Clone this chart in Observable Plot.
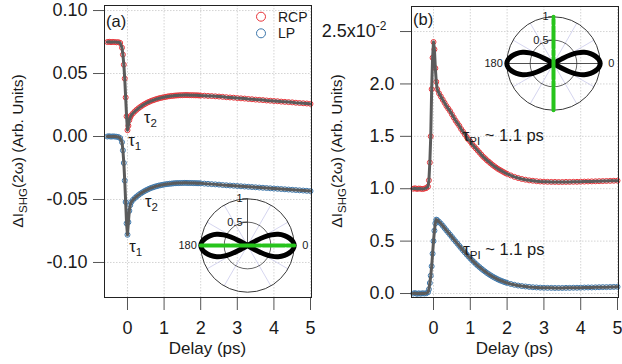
<!DOCTYPE html>
<html><head><meta charset="utf-8">
<script src="https://cdn.jsdelivr.net/npm/d3@7"></script>
<script src="https://cdn.jsdelivr.net/npm/@observablehq/plot@0.6"></script>
<style>
body{margin:0;background:#fff;}
#wrap{position:relative;width:622px;height:364px;overflow:hidden;font-family:"Liberation Sans",Arial,sans-serif;background:#fff;}
#wrap > svg{position:absolute;}
</style></head><body><div id="wrap"></div>
<script>
// ---------- data ----------
const delay = [-0.55,-0.5,-0.45,-0.4,-0.35,-0.3,-0.25,-0.2,-0.15,-0.125,-0.1,-0.075,-0.05,-0.025,0,0.025,0.05,0.075,
 0.1,0.15,0.2,0.25,0.3,0.35,0.4,0.45,0.5,0.55,0.6,0.65,0.7,0.75,0.8,0.85,0.9,0.95,1.0,1.05,1.1,1.15,1.2,1.25,1.3,1.35,1.4,1.45,1.5,1.55,1.6,1.65,1.7,1.75,1.8,1.85,1.9,1.95,2.0,
 2.1,2.2,2.3,2.4,2.5,2.6,2.7,2.8,2.9,3.0,3.1,3.2,3.3,3.4,3.5,3.6,3.7,3.8,3.9,4.0,4.1,4.2,4.3,4.4,4.5,4.6,4.7,4.8,4.9,5.0];

// panel (a)
const rcpA = [0.0750,0.0752,0.0749,0.0751,0.0750,0.0748,0.0749,0.0743,0.0705,0.0650,0.0570,0.0460,0.0310,0.0160,0.0050,0.0085,0.0130,0.0152,
 0.0168,0.0184,0.0199,0.0212,0.0224,0.0235,0.0245,0.0254,0.0262,0.0270,0.0276,0.0283,0.0288,0.0293,0.0298,0.0302,0.0306,0.0309,0.0312,0.0315,0.0318,0.0320,0.0322,0.0323,0.0325,0.0326,0.0327,0.0328,0.0328,0.0329,0.0329,0.0329,0.0328,0.0328,0.0328,0.0327,0.0327,0.0326,0.0325,
 0.0324,0.0322,0.0321,0.0319,0.0317,0.0315,0.0312,0.0310,0.0308,0.0305,0.0303,0.0301,0.0298,0.0296,0.0293,0.0291,0.0289,0.0286,0.0284,0.0282,0.0280,0.0277,0.0275,0.0273,0.0271,0.0268,0.0266,0.0264,0.0262,0.0259];
const lpA = [0.0000,0.0002,-0.0001,0.0001,0.0000,-0.0002,-0.0004,-0.0013,-0.0045,-0.0110,-0.0210,-0.0350,-0.0520,-0.0690,-0.0780,-0.0680,-0.0590,-0.0545,
 -0.0522,-0.0503,-0.0489,-0.0476,-0.0465,-0.0454,-0.0445,-0.0436,-0.0428,-0.0421,-0.0414,-0.0408,-0.0403,-0.0398,-0.0394,-0.0390,-0.0387,-0.0384,-0.0381,-0.0379,-0.0377,-0.0375,-0.0374,-0.0372,-0.0371,-0.0370,-0.0370,-0.0369,-0.0369,-0.0368,-0.0368,-0.0369,-0.0369,-0.0369,-0.0370,-0.0370,-0.0371,-0.0371,-0.0372,
 -0.0374,-0.0376,-0.0378,-0.0380,-0.0382,-0.0385,-0.0387,-0.0389,-0.0391,-0.0393,-0.0395,-0.0397,-0.0399,-0.0401,-0.0403,-0.0405,-0.0407,-0.0409,-0.0411,-0.0413,-0.0415,-0.0417,-0.0419,-0.0421,-0.0423,-0.0425,-0.0427,-0.0429,-0.0431,-0.0433];

// panel (b), units of 1e-2
const rcpB = [1.000,1.004,0.998,1.002,1.000,0.997,1.001,1.006,1.020,1.080,1.250,1.500,1.950,2.250,2.400,2.330,2.150,2.020,
 1.950,1.910,1.880,1.850,1.820,1.790,1.765,1.740,1.710,1.680,1.650,1.625,1.600,1.570,1.545,1.520,1.495,1.470,1.450,1.425,1.405,1.385,1.365,1.345,1.325,1.305,1.290,1.272,1.258,1.243,1.228,1.215,1.202,1.190,1.180,1.170,1.160,1.150,1.142,
 1.127,1.113,1.102,1.093,1.086,1.080,1.076,1.072,1.069,1.067,1.066,1.065,1.065,1.064,1.064,1.065,1.065,1.066,1.066,1.067,1.068,1.069,1.070,1.071,1.072,1.073,1.074,1.075,1.076,1.077];
const lpB = [0.000,0.004,-0.003,0.002,-0.002,0.003,0.000,0.002,0.012,0.040,0.100,0.170,0.260,0.380,0.500,0.600,0.670,0.705,
 0.700,0.685,0.667,0.647,0.625,0.603,0.582,0.561,0.540,0.518,0.497,0.476,0.455,0.434,0.413,0.393,0.373,0.354,0.335,0.317,0.300,0.283,0.267,0.252,0.237,0.223,0.210,0.197,0.185,0.174,0.163,0.153,0.144,0.135,0.127,0.120,0.113,0.107,0.101,
 0.091,0.083,0.076,0.071,0.067,0.063,0.060,0.058,0.056,0.055,0.054,0.054,0.053,0.053,0.053,0.054,0.054,0.055,0.055,0.056,0.057,0.058,0.058,0.059,0.060,0.061,0.061,0.062,0.063,0.064];

const delayTicks = [0,1,2,3,4,5];
const yTicksA = [-0.10,-0.05,0,0.05,0.10];
const yTicksB = [0,0.5,1,1.5,2,2.5];
const seriesNames = ["RCP","LP"];

// polar insets
const lobeAngle = [0,5,10,15,20,24,27,29,30];
const lobeR     = [1.00,0.975,0.91,0.82,0.70,0.56,0.40,0.22,0];
const ringR = [0.5,1];
const spokeAngle = [30,60,120,150,210,240,300,330];
const sideAngle = [180,0];
const greenAngleA = 0, greenAngleB = 90;

// annotations (anchor in data coordinates)
const annA = [
  {t:0.464, v:0.0103, main:"τ", sub:"2", rest:""},
  {t:0.036, v:-0.0083, main:"τ", sub:"1", rest:""},
  {t:0.49, v:-0.0563, main:"τ", sub:"2", rest:""},
  {t:0.063, v:-0.0921, main:"τ", sub:"1", rest:""}
];
const annB = [
  {t:0.807, v:1.455, main:"τ", sub:"PI", rest:" ~ 1.1 ps"},
  {t:0.823, v:0.363, main:"τ", sub:"PI", rest:" ~ 1.1 ps"}
];

// ---------- drawing ----------
const FONT = "'Liberation Sans', Arial, Helvetica, sans-serif";
const RED = "#e8353a", BLUE = "#3d77ab", FIT = "#5b5b5b", GREEN = "#27c41c";
const wrap = document.getElementById("wrap");

function mainPanel(o) {
  const rcp = delay.map((t,i)=>({t, v:o.rcp[i]}));
  const lp = delay.map((t,i)=>({t, v:o.lp[i]}));
  const grid = {stroke:"#c9c9c9", strokeOpacity:1, strokeWidth:0.8, strokeDasharray:"1.5,1.5"};
  const chart = Plot.plot({
    width: o.width, height: 364,
    marginLeft: o.ml, marginRight: o.mr, marginTop: o.mt, marginBottom: 67,
    style: {background:"transparent", fontFamily: FONT, fontSize:"18px", color:"#1a1a1a", overflow:"visible", maxWidth:"none"},
    x: {domain: o.xd},
    y: {domain: o.yd},
    marks: [
      Plot.gridX(delayTicks, grid),
      Plot.gridY(o.yTicks, grid),
      Plot.dot(rcp, {x:"t", y:"v", r:2.5, stroke:RED, strokeWidth:1, fill:"none"}),
      Plot.dot(lp, {x:"t", y:"v", r:2.5, stroke:BLUE, strokeWidth:1, fill:"none"}),
      Plot.line(rcp, {x:"t", y:"v", stroke:FIT, strokeWidth:3}),
      Plot.line(lp, {x:"t", y:"v", stroke:FIT, strokeWidth:3}),
      Plot.axisX({ticks: delayTicks, tickSize:13, tickPadding:11, tickFormat: d=>String(d), label:null, stroke:"#555", fontSize:18}),
      Plot.axisY({ticks: o.yTicks, tickSize:11, tickPadding:6, tickFormat: o.fmt, label:null, stroke:"#555", fontSize:18}),
      Plot.frame({stroke:"#222", strokeWidth:1})
    ]
  });
  chart.style.left = o.left + "px";
  chart.style.top = "0px";
  wrap.appendChild(chart);
  const svg = d3.select(chart);
  const sx = chart.scale("x"), sy = chart.scale("y");
  const g = svg.append("g").attr("font-family", FONT).attr("fill", "#1a1a1a").attr("text-anchor","start");
  // y label
  const yl = g.append("text").attr("transform", `translate(${o.ylx},151) rotate(-90)`)
    .attr("text-anchor","middle").attr("font-size",15.5);
  yl.append("tspan").text("ΔI");
  yl.append("tspan").attr("font-size",11.5).attr("dy",4).text("SHG");
  yl.append("tspan").attr("dy",-4).text("(2ω) (Arb. Units)");
  // x label
  g.append("text").attr("x", (o.ml + o.width - o.mr)/2).attr("y",354).attr("text-anchor","middle")
    .attr("font-size",17).text("Delay (ps)");
  // panel letter
  g.append("text").attr("x", o.ml + 2).attr("y", o.letterY).attr("font-size",16.5).text(o.letter);
  // annotations
  for (const a of o.ann) {
    const t = g.append("text").attr("x", sx.apply(a.t)).attr("y", sy.apply(a.v)).attr("font-size",16.5);
    t.append("tspan").text(a.main);
    t.append("tspan").attr("font-size",11.5).attr("dy",4).text(a.sub);
    if (a.rest) t.append("tspan").attr("dy",-4).text(a.rest);
  }
  return {chart, svg, g};
}

// panel (a)
const A = mainPanel({rcp:rcpA, lp:lpA, left:0, width:313, ml:104, mr:2, mt:5,
  xd:[-0.628,5.027], yd:[-0.1278,0.104], yTicks:yTicksA, fmt:d=>d.toFixed(2),
  ylx:23, letter:"(a)", letterY:27, ann:annA});
// legend
const leg = A.g.append("g");
seriesNames.forEach((name,i)=>{
  const cy = 16.7 + i*16.6;
  leg.append("circle").attr("cx",261).attr("cy",cy).attr("r",4.5).attr("fill","none")
    .attr("stroke", i===0?RED:BLUE).attr("stroke-width",1);
  leg.append("text").attr("x",278).attr("y",cy+5).attr("font-size",14).text(name);
});

// panel (b)
const B = mainPanel({rcp:rcpB, lp:lpB, left:309, width:313, ml:102, mr:4, mt:6,
  xd:[-0.598,5.027], yd:[-0.038,2.739], yTicks:yTicksB,
  fmt:d=> d===2.5 ? "2.5x10" : d.toFixed(1),
  ylx:33, letter:"(b)", letterY:25, ann:annB});
B.svg.selectAll("text").filter(function(){return this.textContent==="2.5x10";})
  .attr("dx", -8)
  .append("tspan").attr("dy",-7).attr("font-size",12).text("-2");

// polar insets
function inset(cx, cy, greenAngle) {
  const W=170, H=112, R=46.7;
  const rad = d => d*Math.PI/180;
  const pt = (deg, r) => ({x: r*Math.cos(rad(deg)), y: r*Math.sin(rad(deg))});
  const half = lobeAngle.map((a,i)=>({a, r:lobeR[i]}));
  const lobe = [...half.slice().reverse(), ...half.slice(1).map(d=>({a:-d.a, r:d.r}))];
  const loop = [...lobe.map(d=>pt(d.a,d.r)), ...lobe.slice().reverse().slice(1).map(d=>pt(180+d.a,d.r))];
  const green = [pt(greenAngle,-1), pt(greenAngle,1)];
  const chart = Plot.plot({
    width: W, height: H, margin: 0,
    style: {background:"transparent", fontFamily: FONT, overflow:"visible", maxWidth:"none", color:"#1a1a1a"},
    x: {domain:[-W/2/R, W/2/R], axis:null},
    y: {domain:[-H/2/R, H/2/R], axis:null},
    r: {type:"identity"},
    marks: [
      Plot.link(spokeAngle, {x1:0, y1:0, x2:a=>Math.cos(rad(a)), y2:a=>Math.sin(rad(a)), stroke:"#c3c3e8", strokeWidth:0.7}),
      Plot.dot(ringR, {x:0, y:0, r:d=>d*R, fill:"none", stroke:"#222", strokeWidth:d=>d===1?0.9:0.7}),
      Plot.ruleY([0], {x1:-1, x2:1, stroke:"#222", strokeWidth:0.8}),
      Plot.ruleX([0], {y1:0, y2:1, stroke:"#222", strokeWidth:0.8}),
      Plot.ruleY(ringR, {x1:-0.1, x2:0, stroke:"#222", strokeWidth:0.8}),
      Plot.text(ringR, {x:0, y:d=>d, text:d=>String(d), textAnchor:"end", dx:-5, fontSize:11}),
      Plot.text(sideAngle.filter(a=>a===180), {x:a=>Math.cos(rad(a)), y:0, text:String, textAnchor:"end", dx:-4, fontSize:11}),
      Plot.text(sideAngle.filter(a=>a===0), {x:a=>Math.cos(rad(a)), y:0, text:String, textAnchor:"start", dx:8, fontSize:11}),
      Plot.line(loop, {x:"x", y:"y", stroke:"#000", strokeWidth:5, curve:"catmull-rom", strokeLinejoin:"round"}),
      Plot.line(green, {x:"x", y:"y", stroke:GREEN, strokeWidth:4, strokeDasharray:"22,2,5,2"})
    ]
  });
  chart.style.left = (cx - W/2) + "px";
  chart.style.top = (cy - H/2) + "px";
  wrap.appendChild(chart);
}
inset(246.7, 245.3, greenAngleA);
inset(553.3, 62.5, greenAngleB);
</script></body></html>
